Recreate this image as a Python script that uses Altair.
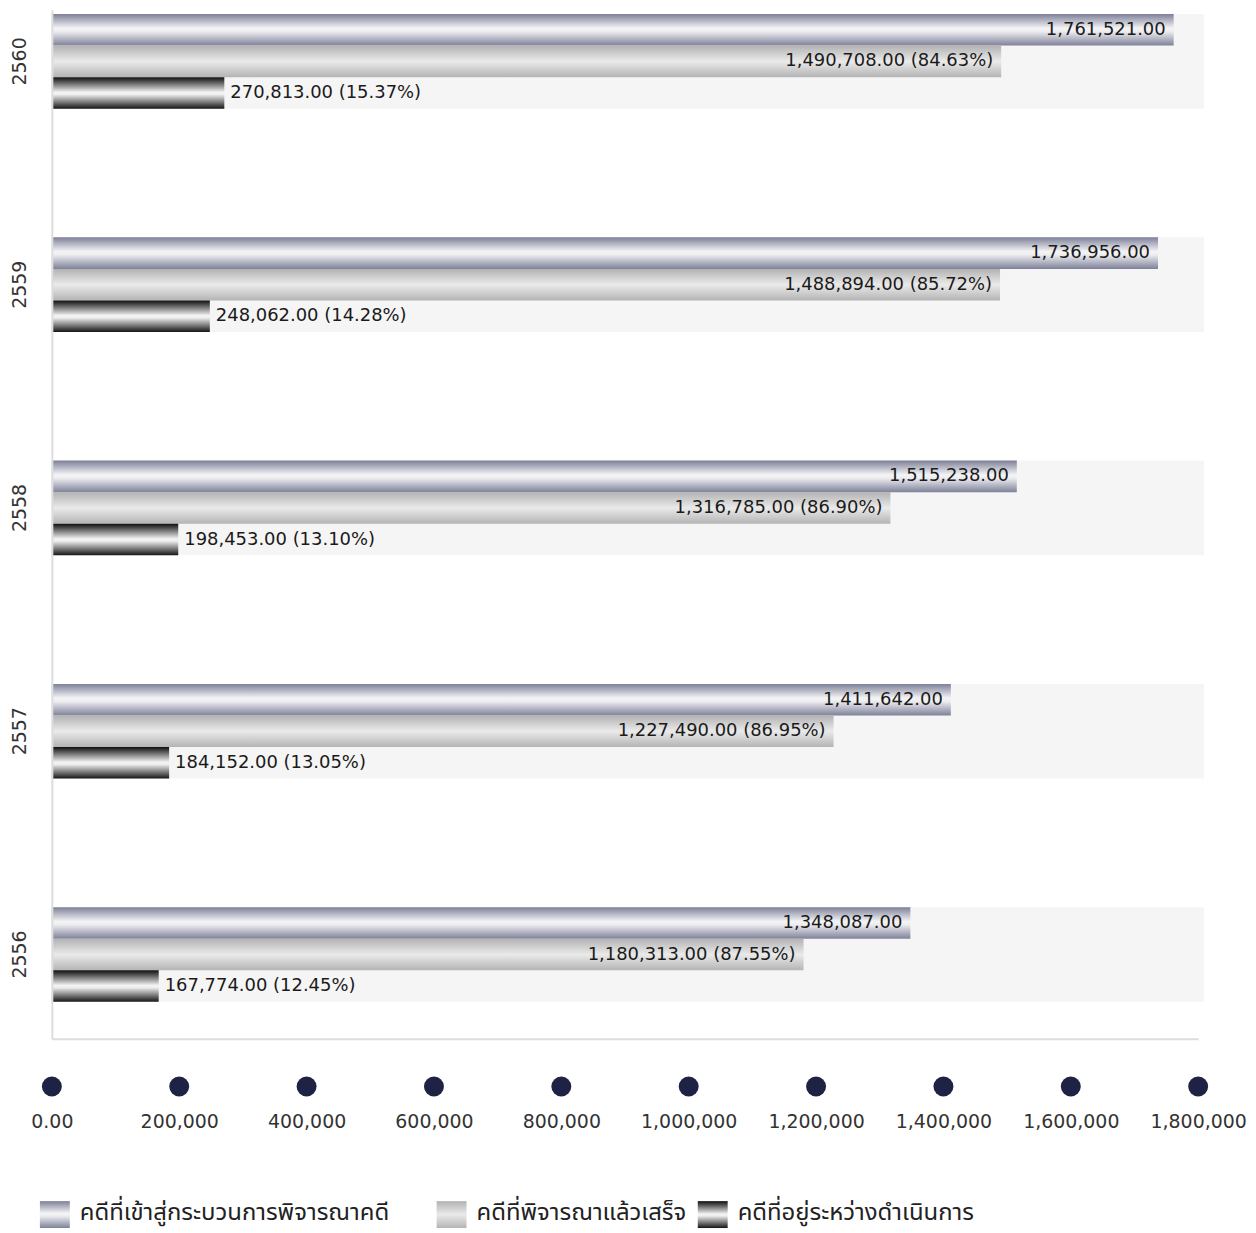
import altair as alt
import pandas as pd

years = ["2560", "2559", "2558", "2557", "2556"]
series = ["คดีที่เข้าสู่กระบวนการพิจารณาคดี", "คดีที่พิจารณาแล้วเสร็จ", "คดีที่อยู่ระหว่างดำเนินการ"]
total = [1761521, 1736956, 1515238, 1411642, 1348087]
done = [1490708, 1488894, 1316785, 1227490, 1180313]
done_pct = [84.63, 85.72, 86.90, 86.95, 87.55]
pending = [270813, 248062, 198453, 184152, 167774]
pending_pct = [15.37, 14.28, 13.10, 13.05, 12.45]
ticks = [0, 200000, 400000, 600000, 800000, 1000000, 1200000, 1400000, 1600000, 1800000]

rows = []
for i, y in enumerate(years):
    rows.append({"year": y, "series": series[0], "value": total[i],
                 "label": f"{total[i]:,.2f}"})
    rows.append({"year": y, "series": series[1], "value": done[i],
                 "label": f"{done[i]:,.2f} ({done_pct[i]:.2f}%)"})
    rows.append({"year": y, "series": series[2], "value": pending[i],
                 "label": f"{pending[i]:,.2f} ({pending_pct[i]:.2f}%)"})
df = pd.DataFrame(rows)
bg = pd.DataFrame({"year": years})
tick_df = pd.DataFrame({"t": ticks})

NUMFONT = "DejaVu Sans, Verdana, sans-serif"
THAIFONT = "Noto Sans Thai, Noto Sans, DejaVu Sans, sans-serif"


def grad(stops):
    return {"gradient": "linear", "x1": 0, "y1": 0, "x2": 0, "y2": 1,
            "stops": [{"offset": o, "color": c} for o, c in stops]}


grads = [
    grad([(0, "#7d8098"), (0.45, "#f4f4f6"), (0.55, "#eeeef1"), (1, "#7e8199")]),
    grad([(0, "#b2b2b2"), (0.5, "#eaeaea"), (1, "#b4b4b4")]),
    grad([(0, "#0e0e0e"), (0.48, "#f4f4f4"), (0.55, "#eeeeee"), (1, "#151515")]),
]

W, H = 1150, 1032
xscale = alt.Scale(domain=[0, 1800000], nice=False, zero=True)
yscale = alt.Scale(domain=years, paddingInner=0.576, paddingOuter=0.0915, align=0.1)
yoff = alt.Scale(domain=series, paddingInner=0, paddingOuter=0)

xaxis = alt.Axis(values=ticks, ticks=False, grid=False, domainColor="#dddddd", domainWidth=2,
                 labelPadding=74, labelBaseline="top", labelFontSize=19, labelColor="#333333",
                 labelFont=NUMFONT, labelFlush=False, labelOverlap=False,
                 labelExpr="datum.value == 0 ? '0.00' : format(datum.value, ',')",
                 title=None)
yaxis = alt.Axis(ticks=False, grid=False, domainColor="#dddddd", domainWidth=2,
                 labelAngle=270, labelAlign="center", labelBaseline="middle", labelPadding=32,
                 labelFontSize=19, labelColor="#333333", labelFont=NUMFONT, title=None)

band = alt.Chart(bg).mark_rect(color="#f5f5f5").encode(
    y=alt.Y("year:N", scale=yscale, axis=yaxis),
    x=alt.datum(0, scale=xscale, axis=xaxis),
    x2=alt.datum(1809000),
)

layers = [band]
for i, s in enumerate(series):
    layers.append(
        alt.Chart(df).transform_filter(alt.datum.series == s).mark_bar(color=grads[i]).encode(
            y=alt.Y("year:N", scale=yscale, axis=yaxis),
            yOffset=alt.YOffset("series:N", scale=yoff),
            x=alt.X("value:Q", scale=xscale, axis=xaxis),
        )
    )
for i, s in enumerate(series):
    inside = i < 2
    layers.append(
        alt.Chart(df).transform_filter(alt.datum.series == s).mark_text(
            align="right" if inside else "left", dx=-8 if inside else 6,
            baseline="middle", fontSize=18, color="#1a1a1a", font=NUMFONT
        ).encode(
            y=alt.Y("year:N", scale=yscale, axis=yaxis),
            yOffset=alt.YOffset("series:N", scale=yoff),
            x=alt.X("value:Q", scale=xscale, axis=xaxis),
            text="label:N",
        )
    )

dots = alt.Chart(tick_df).mark_circle(size=400, color="#1e2245", opacity=1).encode(
    x=alt.X("t:Q", scale=xscale, axis=xaxis),
    y=alt.value(1080),
)
layers.append(dots)

leg_x = [-12, 386, 648]
for i, s in enumerate(series):
    ld = pd.DataFrame({"name": [s]})
    layers.append(
        alt.Chart(ld).mark_rect(color=grads[i]).encode(
            x=alt.value(leg_x[i]), x2=alt.value(leg_x[i] + 30),
            y=alt.value(1195), y2=alt.value(1222),
        )
    )
    layers.append(
        alt.Chart(ld).mark_text(align="left", baseline="alphabetic", fontSize=24,
                                color="#222222", font=THAIFONT).encode(
            x=alt.value(leg_x[i] + 40), y=alt.value(1214), text="name:N",
        )
    )

chart = alt.layer(*layers).properties(
    width=W, height=H, autosize="none",
    padding={"left": 44, "top": 0, "right": 50, "bottom": 190},
).configure_view(stroke=None)

chart.save("out.html", embed_options={"renderer": "svg", "actions": False})
